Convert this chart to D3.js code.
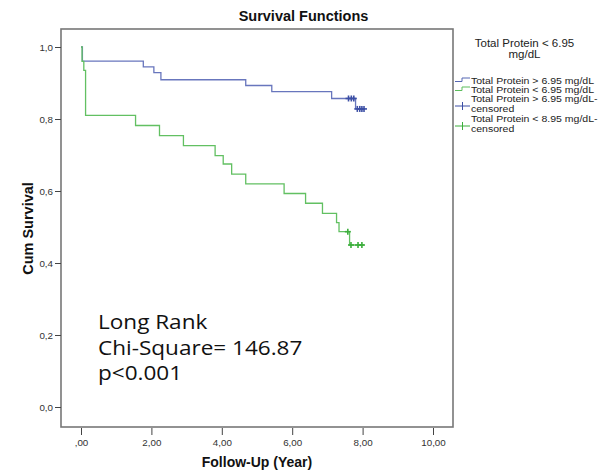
<!DOCTYPE html>
<html>
<head>
<meta charset="utf-8">
<script src="https://cdn.jsdelivr.net/npm/d3@7"></script>
<style>
  body { margin: 0; background: #fff; }
  svg { display: block; }
</style>
</head>
<body>
<svg id="chart" width="607" height="472"></svg>
<script>
// ---- Data ----
const xTicks = [0, 2, 4, 6, 8, 10];
const xTickLabels = [",00", "2,00", "4,00", "6,00", "8,00", "10,00"];
const yTicks = [0, 0.2, 0.4, 0.6, 0.8, 1.0];
const yTickLabels = ["0,0", "0,2", "0,4", "0,6", "0,8", "1,0"];

// Group: Total Protein > 6.95 mg/dL (blue)
const highTimes = [0, 0.04, 1.77, 2.07, 2.27, 4.68, 5.42, 7.12, 7.80];
const highSurv  = [1.0, 0.961, 0.945, 0.929, 0.909, 0.893, 0.876, 0.857, 0.828];
const highEnd = 8.07;
const highCensorTimes = [7.60, 7.68, 7.75, 7.85, 7.92, 7.98, 8.04];

// Group: Total Protein < 6.95 mg/dL (green)
const lowTimes = [0, 0.03, 0.08, 0.13, 1.55, 2.23, 2.91, 3.81, 4.04, 4.28, 4.68, 5.77, 6.38, 6.86, 7.26, 7.33, 7.63];
const lowSurv  = [1.0, 0.96, 0.935, 0.81, 0.782, 0.754, 0.726, 0.698, 0.675, 0.647, 0.62, 0.593, 0.566, 0.538, 0.512, 0.487, 0.45];
const lowEnd = 8.05;
const lowCensorTimes = [7.58, 7.67, 7.87, 7.98];

const legendTitle = ["Total Protein < 6.95", "mg/dL"];
const legendItems = [
  { label: ["Total Protein > 6.95 mg/dL"], kind: "line", color: "#5567b3" },
  { label: ["Total Protein < 6.95 mg/dL"], kind: "line", color: "#5cbd5c" },
  { label: ["Total Protein > 6.95 mg/dL-", "censored"], kind: "censor", color: "#3c4fa5" },
  { label: ["Total Protein < 8.95 mg/dL-", "censored"], kind: "censor", color: "#3cae3c" }
];
const statsText = ["Long Rank", "Chi-Square= 146.87", "p<0.001"];

// ---- Layout ----
const svg = d3.select("#chart");
const frame = { left: 61, right: 453, top: 29, bottom: 427 };
const x = d3.scaleLinear().domain([0, 10]).range([81, 433]);
const y = d3.scaleLinear().domain([0, 1]).range([407, 47]);

const axisFont = "'Liberation Sans', Arial, sans-serif";

// Title
svg.append("text").attr("x", 303.5).attr("y", 21).attr("text-anchor", "middle")
  .attr("font-family", axisFont).attr("font-weight", "bold").attr("font-size", 14.5)
  .attr("fill", "#111").text("Survival Functions");

// Frame
svg.append("rect").attr("x", frame.left).attr("y", frame.top)
  .attr("width", frame.right - frame.left).attr("height", frame.bottom - frame.top)
  .attr("fill", "none").attr("stroke", "#777").attr("stroke-width", 1.6);

// X axis
const xAxis = d3.axisBottom(x).tickValues(xTicks).tickSize(7).tickPadding(4)
  .tickFormat((d, i) => xTickLabels[i]);
const gx = svg.append("g").attr("transform", `translate(0,${frame.bottom + 1})`).call(xAxis);
gx.select(".domain").remove();
gx.selectAll(".tick line").attr("stroke", "#444");
gx.selectAll(".tick text").attr("font-family", axisFont).attr("font-size", 9.8).attr("fill", "#333");

// Y axis
const yAxis = d3.axisLeft(y).tickValues(yTicks).tickSize(6).tickPadding(2)
  .tickFormat((d, i) => yTickLabels[i]);
const gy = svg.append("g").attr("transform", `translate(${frame.left},0)`).call(yAxis);
gy.select(".domain").remove();
gy.selectAll(".tick line").attr("stroke", "#444");
gy.selectAll(".tick text").attr("font-family", axisFont).attr("font-size", 9.8).attr("fill", "#333");

// Axis labels
svg.append("text").attr("x", 257).attr("y", 467).attr("text-anchor", "middle")
  .attr("font-family", axisFont).attr("font-weight", "bold").attr("font-size", 14)
  .attr("fill", "#111").text("Follow-Up (Year)");
svg.append("text").attr("transform", "translate(33,228.5) rotate(-90)").attr("text-anchor", "middle")
  .attr("font-family", axisFont).attr("font-weight", "bold").attr("font-size", 14.5)
  .attr("fill", "#111").text("Cum Survival");

// Step curves
function stepPoints(times, surv, end) {
  const pts = times.map((t, i) => [t, surv[i]]);
  pts.push([end, surv[surv.length - 1]]);
  return pts;
}
const line = d3.line().x(d => x(d[0])).y(d => y(d[1])).curve(d3.curveStepAfter);

function survAt(times, surv, t) {
  let s = surv[0];
  for (let i = 0; i < times.length; i++) if (times[i] <= t) s = surv[i];
  return s;
}

function drawGroup(times, surv, end, censors, lineColor, markColor) {
  svg.append("path").datum(stepPoints(times, surv, end))
    .attr("d", line).attr("fill", "none").attr("stroke", lineColor)
    .attr("stroke-width", 1.3);
  const g = svg.append("g");
  censors.forEach(t => {
    const cx = x(t), cy = y(survAt(times, surv, t));
    g.append("line").attr("x1", cx - 3).attr("x2", cx + 3).attr("y1", cy).attr("y2", cy)
      .attr("stroke", markColor).attr("stroke-width", 1.6);
    g.append("line").attr("x1", cx).attr("x2", cx).attr("y1", cy - 3).attr("y2", cy + 3)
      .attr("stroke", markColor).attr("stroke-width", 1.6);
  });
}
drawGroup(highTimes, highSurv, highEnd, highCensorTimes, "#6876bd", "#3c4fa5");
drawGroup(lowTimes, lowSurv, lowEnd, lowCensorTimes, "#62c062", "#3cae3c");

// Stats text
const statsFont = "'Open Sans', Lato, sans-serif";
const statsBase = [329, 355, 380];
statsText.forEach((s, i) => {
  svg.append("text").attr("transform", `translate(98,${statsBase[i]}) scale(1.1,1)`)
    .attr("font-family", statsFont).attr("font-size", 20.5).attr("fill", "#111").text(s);
});

// Legend
const legendFont = "'Liberation Sans', Arial, sans-serif";
legendTitle.forEach((s, i) => {
  svg.append("text").attr("x", 524.5).attr("y", 47 + i * 10.5).attr("text-anchor", "middle")
    .attr("font-family", legendFont).attr("font-size", 11.5).attr("fill", "#222").text(s);
});
const rowY = [84, 93, 102, 122];
legendItems.forEach((item, i) => {
  const by = rowY[i];
  item.label.forEach((s, j) => {
    svg.append("text").attr("transform", `translate(471,${by + j * 10}) scale(1.17,1)`)
      .attr("font-family", legendFont).attr("font-size", 9).attr("fill", "#222").text(s);
  });
  if (item.kind === "line") {
    const ly = by - 2.5, hy = by - 6;
    svg.append("path").attr("d", `M455,${ly}H462V${hy}H470`)
      .attr("fill", "none").attr("stroke", item.color).attr("stroke-width", 1);
  } else {
    const cy = by + 4;
    svg.append("line").attr("x1", 455).attr("x2", 470).attr("y1", cy).attr("y2", cy)
      .attr("stroke", item.color).attr("stroke-width", 1);
    svg.append("line").attr("x1", 462.5).attr("x2", 462.5).attr("y1", cy - 4).attr("y2", cy + 4)
      .attr("stroke", item.color).attr("stroke-width", 1);
  }
});
</script>
</body>
</html>
